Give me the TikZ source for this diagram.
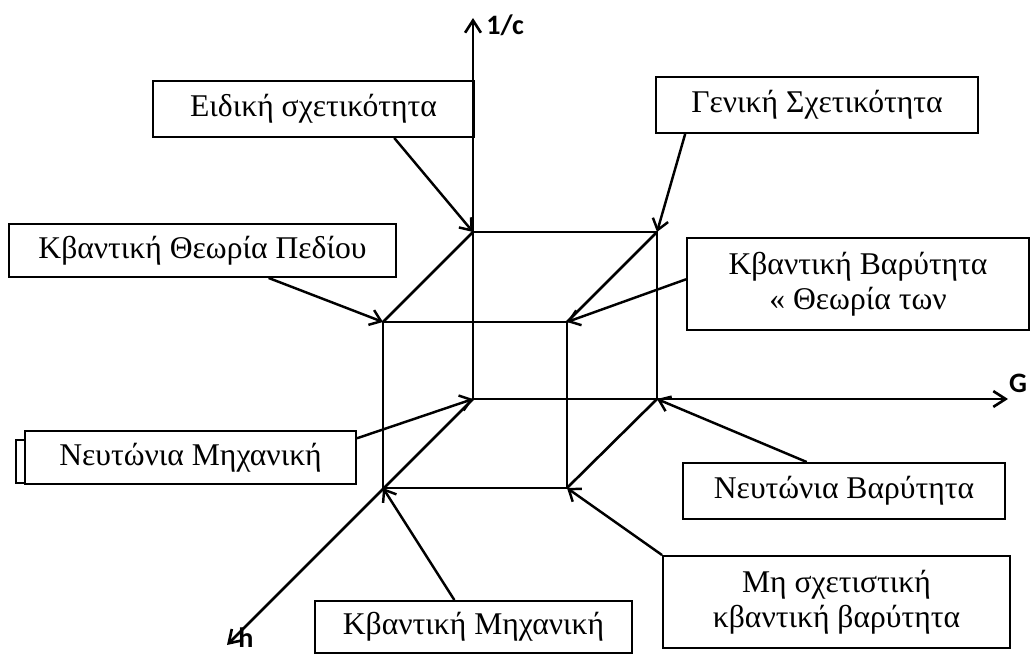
\documentclass[tikz,border=0pt]{standalone}
\usepackage{fontspec}
\setmainfont{Liberation Serif}
\newfontfamily\axisfont{Carlito}
\usepackage{tikz}
\usetikzlibrary{calc}
\usetikzlibrary{positioning}
\usetikzlibrary{arrows.meta}

\tikzset{
  theory/.style={draw, line width=1.1pt, inner sep=0pt, align=center,
    font=\fontsize{18}{20}\selectfont},
  boxsize/.style 2 args={minimum width=#1*0.02cm, minimum height=#2*0.02cm},
  axislabel/.style={font=\axisfont\bfseries\fontsize{16}{18}\selectfont, inner sep=0pt},
  edge/.style={line width=1.5pt},
  pointer/.style={line width=1.4pt, -{Straight Barb[length=6pt,width=9pt]}}
}

\begin{document}
\begin{tikzpicture}[x=0.02cm, y=-0.02cm, >={Straight Barb[length=7pt,width=9pt]}]
  \useasboundingbox (0,0) rectangle (1030,655);

  \coordinate (O) at (473,399);
  \coordinate (B1) at (473,232);
  \coordinate (B2) at (657,232);
  \coordinate (B3) at (657,399);
  \coordinate (F1) at (383,322);
  \coordinate (F2) at (567,322);
  \coordinate (F3) at (567,488);
  \coordinate (F4) at (383,488);
  \coordinate (ctip) at (473,18);
  \coordinate (gtip) at (1008,399);
  \coordinate (htip) at (227,645);

  \draw[edge, ->] (O) -- (ctip);
  \draw[edge, ->] (O) -- (gtip);
  \draw[edge, ->] (O) -- (htip);
  \node[axislabel, anchor=west] (clabel) at (486,25) {1/c};
  \node[axislabel] (glabel) at (1018,383) {G};
  \node[axislabel, anchor=base west] (hlabel) at (238,647) {h};

  \draw[edge] (B1) -- (B2) -- (B3);
  \draw[edge] (F1) -- (F2) -- (F3) -- (F4) -- cycle;
  \draw[edge] (B1) -- (F1);
  \draw[edge] (B2) -- (F2);
  \draw[edge] (B3) -- (F3);

  \draw[line width=1.1pt] (16,440) rectangle (25,483);

  \node[theory, boxsize={321}{56}] (special) at (313.5,109) {Ειδική σχετικότητα};
  \node[theory, boxsize={322}{56}] (general) at (817,105) {Γενική Σχετικότητα};
  \node[theory, boxsize={387}{53}] (qft) at (202.5,250.5) {Κβαντική Θεωρία Πεδίου};
  \node[theory, boxsize={342}{92}] (qgrav) at (858,284) {Κβαντική Βαρύτητα\\« Θεωρία των};
  \node[theory, boxsize={331}{53}] (newtmech) at (190.5,457.5) {Νευτώνια Μηχανική};
  \node[theory, boxsize={322}{56}] (newtgrav) at (844,491) {Νευτώνια Βαρύτητα};
  \node[theory, boxsize={347}{92}] (nonrel) at (836.5,602) {Μη σχετιστική\\κβαντική βαρύτητα};
  \node[theory, boxsize={317}{52}] (qmech) at (473.5,627) {Κβαντική Μηχανική};

  \draw[pointer] ($(special.south west)!0.75!(special.south east)$) -- (B1);
  \draw[pointer] ($(general.south west)!0.093!(general.south east)$) -- (B2);
  \draw[pointer] ($(qft.south west)!0.67!(qft.south east)$) -- (F1);
  \draw[pointer] ($(qgrav.north west)!0.45!(qgrav.south west)$) -- (F2);
  \draw[pointer] ($(newtmech.north east)!0.15!(newtmech.south east)$) -- (O);
  \draw[pointer] ($(newtgrav.north west)!0.385!(newtgrav.north east)$) -- (B3);
  \draw[pointer] (nonrel.north west) -- (F3);
  \draw[pointer] ($(qmech.north west)!0.44!(qmech.north east)$) -- (F4);
\end{tikzpicture}
\end{document}
